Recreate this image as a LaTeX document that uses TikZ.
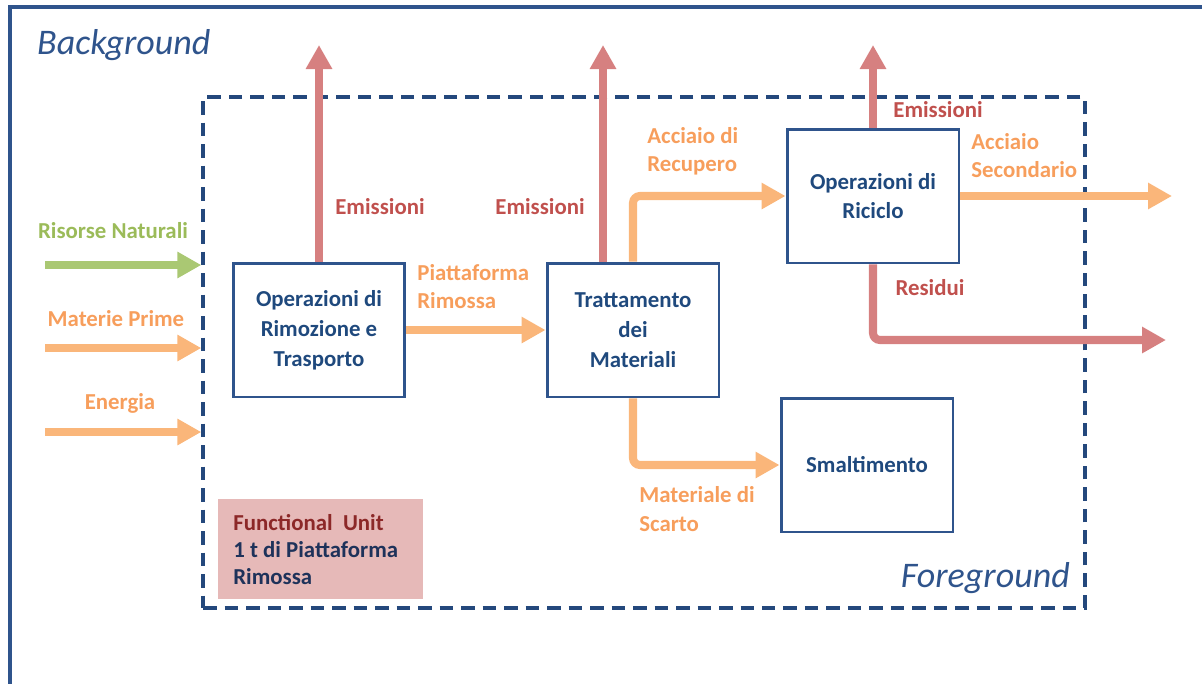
\documentclass[tikz,border=0pt]{standalone}
\usepackage{fontspec}
\setmainfont{Carlito}
\usetikzlibrary{arrows.meta}
\usetikzlibrary{positioning}
\usepackage{xcolor}

\definecolor{frameblue}{RGB}{47,84,140}
\definecolor{dashblue}{RGB}{36,72,124}
\definecolor{boxtext}{RGB}{31,73,125}
\definecolor{flowred}{RGB}{214,128,128}
\definecolor{labred}{RGB}{192,80,77}
\definecolor{floworange}{RGB}{250,182,122}
\definecolor{laborange}{RGB}{247,158,92}
\definecolor{flowgreen}{RGB}{170,200,115}
\definecolor{labgreen}{RGB}{155,187,89}
\definecolor{unitpink}{RGB}{230,185,184}
\definecolor{unitred}{RGB}{140,40,40}
\definecolor{unitblue}{RGB}{30,50,90}

\tikzset{
 procbox/.style={draw=frameblue, line width=1.7pt, minimum width=3.44cm, minimum height=2.68cm,
  align=center, text=boxtext, font=\bfseries\fontsize{13}{17}\selectfont, inner sep=0pt},
 lab/.style={font=\bfseries\fontsize{13}{16}\selectfont, inner sep=0pt},
 flow/.style={line width=4.6pt, rounded corners=4pt, -{Triangle[length=0.48cm,width=0.5cm]}},
}

\begin{document}
\begin{tikzpicture}[x=0.02cm, y=-0.02cm]
\useasboundingbox (0,0) rectangle (1202,684);
\draw[frameblue, line width=1.9pt] (1202,7) -- (10,7) -- (10,684);
\node[draw=dashblue, line width=2pt, dash pattern=on 0.27cm off 0.16cm, minimum width=17.64cm, minimum height=10.22cm, inner sep=0pt] (fg) at (644,352.5) {};
\node[anchor=west, text=frameblue, font=\itshape\fontsize{20.5}{24}\selectfont] (bg) at (31,45) {Background};
\node[anchor=east, text=frameblue, font=\itshape\fontsize{20.5}{24}\selectfont] (fgtxt) at (1076,578) {Foreground};
\coordinate (top) at (0,45);

\node[procbox] (rimoz) at (319,330) {Operazioni di\\Rimozione e\\Trasporto};
\node[procbox] (tratt) at (633,330) {Trattamento\\dei\\Materiali};
\node[procbox] (ricic) at (873,196) {Operazioni di\\Riciclo};
\node[procbox] (smalt) at (867,465) {Smaltimento};

\node[anchor=north west, fill=unitpink, minimum width=4.1cm, minimum height=2cm, text width=3.5cm,
  inner xsep=0.3cm, align=flush left, text=unitblue, font=\bfseries\fontsize{13}{15.4}\selectfont] (unit) at (218,499)
  {\textcolor{unitred}{Functional~ Unit}\\1 t di Piattaforma\\Rimossa};

\foreach \i/\y/\lx/\ly/\c/\lc/\t in {1/265/113/231/flowgreen/labgreen/Risorse Naturali,
  2/348/116/319/floworange/laborange/Materie Prime, 3/432/120/403/floworange/laborange/Energia} {
 \coordinate (in\i) at (45,\y);
 \draw[flow, \c] (in\i) -- (in\i -| fg.west);
 \node[lab, text=\lc] (lin\i) at (\lx,\ly) {\t};
}

\draw[flow, flowred] (rimoz.north) -- (rimoz.north |- top);
\draw[flow, flowred] ([xshift=-0.6cm]tratt.north) -- ([xshift=-0.6cm]tratt.north |- top);
\draw[flow, flowred] (ricic.north) -- (ricic.north |- top);
\coordinate (secout) at (1172,196);
\coordinate (resout) at (1166,340);
\draw[flow, floworange] (rimoz.east) -- (tratt.west);
\draw[flow, floworange] (tratt.north) |- (ricic.west);
\draw[flow, floworange] (tratt.south) |- (smalt.west);
\draw[flow, floworange] (ricic.east) -- (secout);
\draw[flow, flowred] (ricic.south) |- (resout);

\node[lab, text=labred] (em1) at (380,207) {Emissioni};
\node[lab, text=labred] (em2) at (540,207) {Emissioni};
\node[lab, text=labred] (em3) at (938,110) {Emissioni};
\node[lab, text=labred] (res) at (930,288) {Residui};
\node[lab, text=laborange, anchor=west, align=left] (lpiatt) at (417,287) {Piattaforma\\Rimossa};
\node[lab, text=laborange, anchor=west, align=left] (lrecup) at (647,151) {Acciaio di\\Recupero};
\node[lab, text=laborange, anchor=west, align=left] (lsec) at (971,156) {Acciaio\\Secondario};
\node[lab, text=laborange, anchor=west, align=left] (lscarto) at (639,509) {Materiale di\\Scarto};
\end{tikzpicture}
\end{document}
